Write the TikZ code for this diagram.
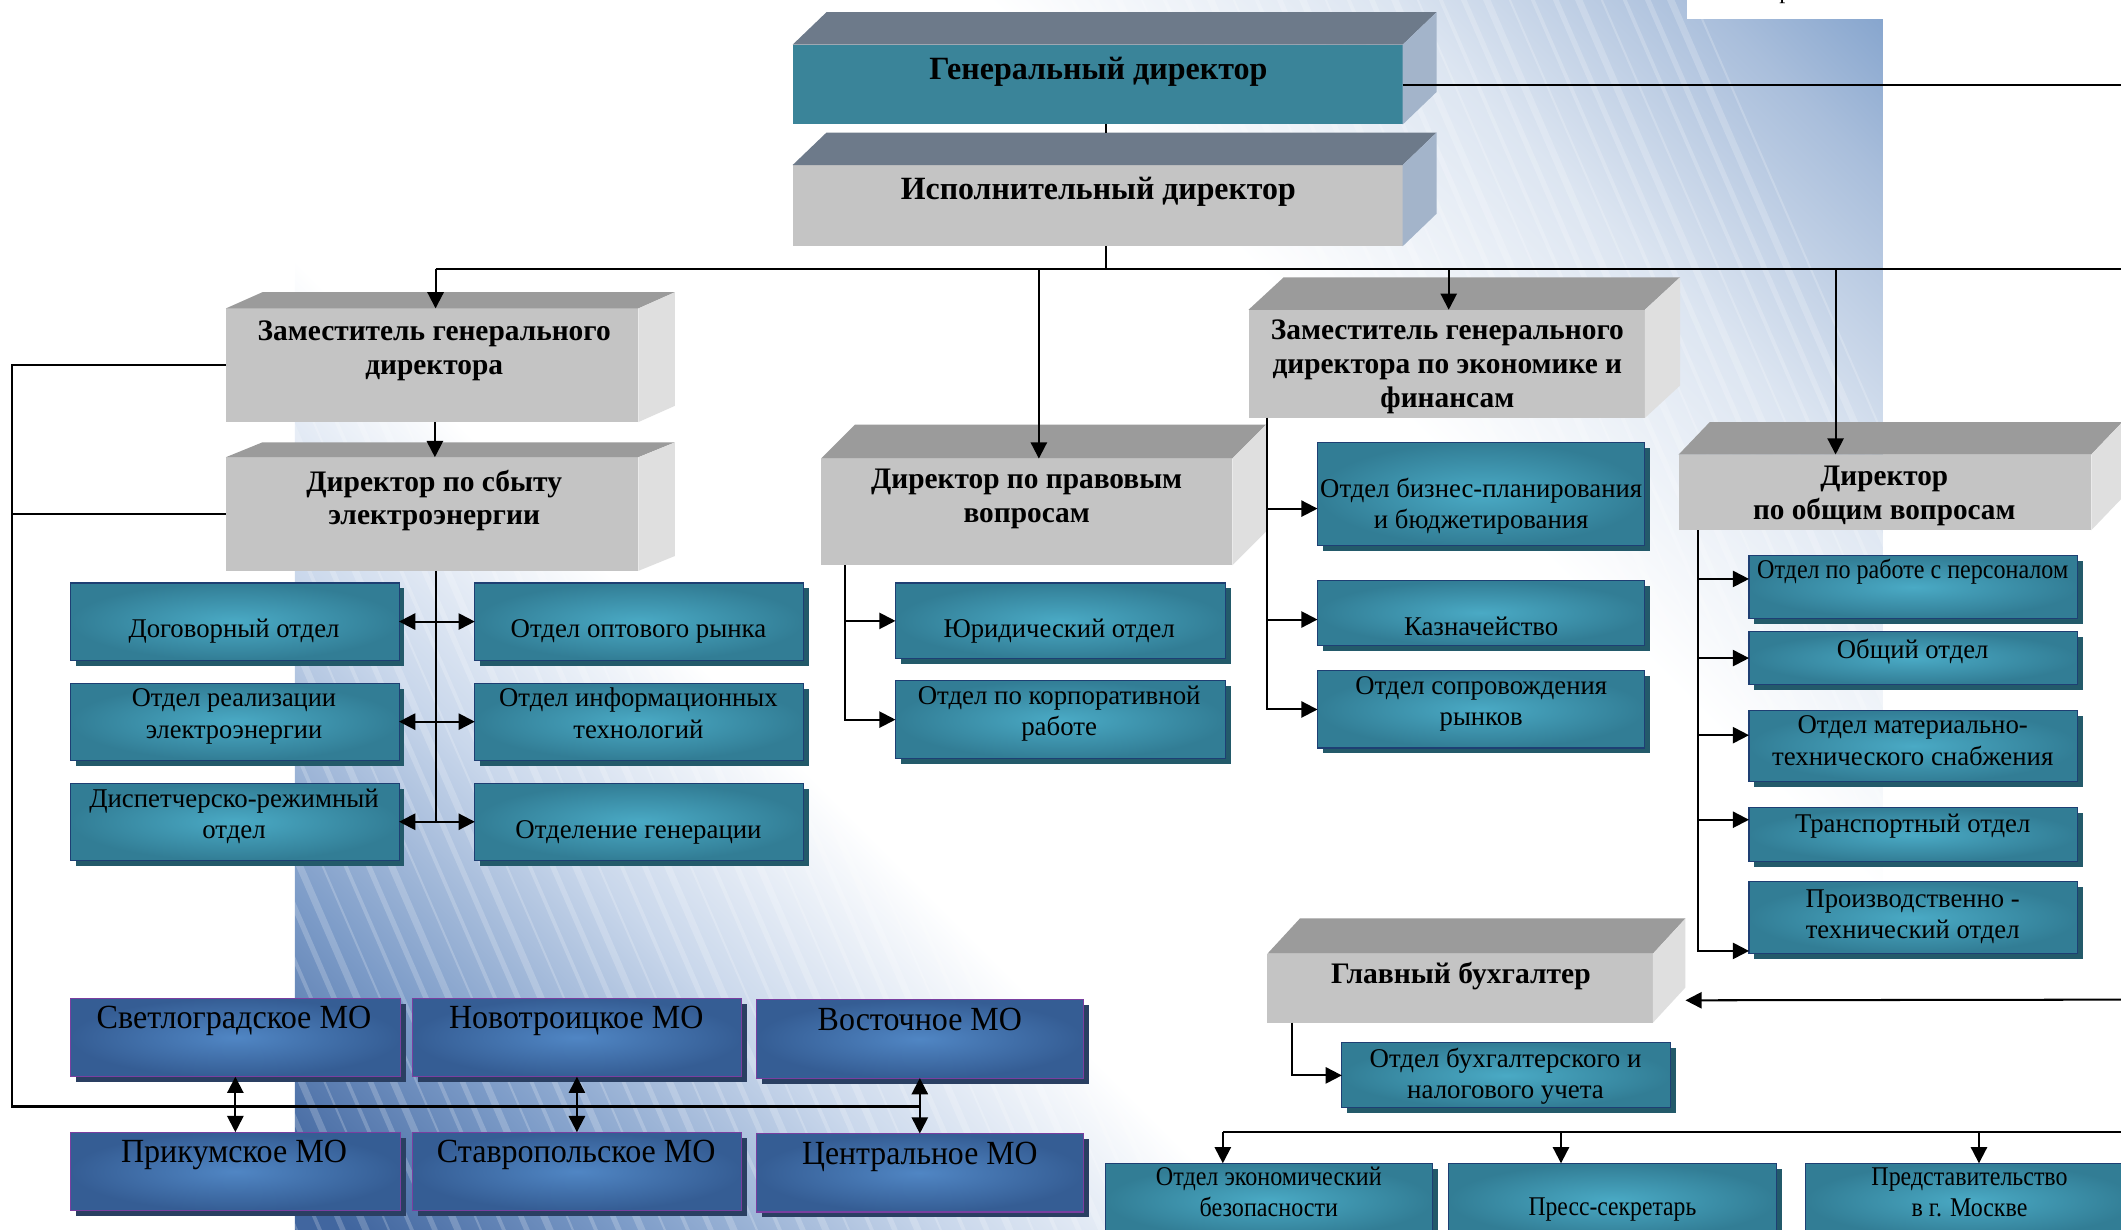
\documentclass[tikz,border=0pt]{standalone}
\usepackage{fontspec}
\setmainfont{Liberation Serif}
\usepackage{graphicx}
\usetikzlibrary{arrows.meta,calc,shadows}
\definecolor{cfront}{HTML}{3A8499}
\definecolor{ctop}{HTML}{6D7A8A}
\definecolor{cside}{HTML}{A3B4CA}
\definecolor{ifront}{HTML}{C4C4C4}
\definecolor{itop}{HTML}{6D7A8A}
\definecolor{iside}{HTML}{A3B4CA}
\definecolor{gfront}{HTML}{C4C4C4}
\definecolor{gtop}{HTML}{9B9B9B}
\definecolor{gside}{HTML}{DFDFDF}
\definecolor{tealin}{HTML}{4AAAC5}
\definecolor{tealout}{HTML}{327D95}
\definecolor{tealedge}{HTML}{1E3F73}
\definecolor{tealshadow}{HTML}{235A6A}
\definecolor{moin}{HTML}{5086C4}
\definecolor{moout}{HTML}{355D94}
\definecolor{moedge}{HTML}{7A3FA0}
\definecolor{moshadow}{HTML}{2A3F62}
\definecolor{pdark}{HTML}{41669F}
\definecolor{pmid}{HTML}{7D9CC8}
\definecolor{plone}{HTML}{C9D7EB}
\definecolor{pltwo}{HTML}{DCE5F1}
\definecolor{pbtwo}{HTML}{A9BEDB}
\definecolor{pbthree}{HTML}{7FA0CB}
\pgfdeclarehorizontalshading{panelsh}{100bp}{color(0bp)=(pdark); color(16bp)=(pdark); color(23bp)=(pmid); color(31bp)=(plone); color(39bp)=(white); color(63bp)=(white); color(73bp)=(pltwo); color(81bp)=(pbtwo); color(86bp)=(pbthree); color(100bp)=(pbthree)}
\newcommand\fsz[2]{\fontsize{#1}{#2}\selectfont}
\newcommand\fitt[3]{\setbox0=\hbox{#2}\edef\fitwd{\the\wd0}\pgfmathsetmacro\fitr{#1/\fitwd}\scalebox{\fitr}[1]{\begin{tabular}{@{}c@{}}#3\end{tabular}}}
\newcommand\mkbox[6]{\node[#1, minimum width={(#4)-(#2)}, minimum height={(#5)-(#3)}] (#6) at ({((#2)+(#4))/2},{((#3)+(#5))/2}) {};}
\newcommand\threed[8]{%
 \node[front3, fill=#8front, minimum width={(#4)-(#2)}, minimum height={(#5)-(#3)}] (#1) at ({((#2)+(#4))/2},{((#3)+(#5))/2}) {};
 \fill[#8top] (#1.north west) -- ++(#6,#7) -- ([shift={(#6,#7)}]#1.north east) -- (#1.north east) -- cycle;
 \fill[#8side] (#1.north east) -- ++(#6,#7) -- ([shift={(#6,#7)}]#1.south east) -- (#1.south east) -- cycle;
}
\tikzset{
 front3/.style={rectangle, inner sep=0pt, outer sep=0pt, draw=none},
 tbox/.style={rectangle, inner sep=0pt, outer sep=0pt, draw=tealedge, line width=0.8pt, inner color=tealin, outer color=tealout, drop shadow={shadow xshift=4pt, shadow yshift=-4pt, fill=tealshadow, opacity=1}},
 mbox/.style={rectangle, inner sep=0pt, outer sep=0pt, draw=moedge, line width=0.8pt, inner color=moin, outer color=moout, drop shadow={shadow xshift=4pt, shadow yshift=-4pt, fill=moshadow, opacity=1}},
 txt/.style={inner sep=0pt, outer sep=0pt, text=black, yshift=-2pt},
 bigb/.style={txt, font={\fsz{24}{28}\bfseries}},
 bb/.style={txt, font={\fsz{22}{25}\bfseries}},
 tn/.style={txt, font={\fsz{20}{23}}},
 mo/.style={txt, font={\fsz{25}{28}}},
 cn/.style={line width=1.5pt, draw=black},
 ar/.style={cn, -{Triangle[length=12pt,width=12pt]}},
 dar/.style={cn, {Triangle[length=12pt,width=12pt]}-{Triangle[length=12pt,width=12pt]}},
}
\begin{document}
\begin{tikzpicture}[x=1pt,y=-1pt]
\useasboundingbox (0,0) rectangle (1568,909);
% background panel
\begin{scope}
 \clip (218,0) rectangle (1392,912);
 \shade[shading=panelsh, shading angle=45] (218,0) rectangle (1392,912);
 \foreach \i in {0,...,100} {
  \pgfmathsetmacro\sx{-450+\i*17}
  \pgfmathsetmacro\lw{1.5+mod(\i*5,4)*1.2}
  \draw[white, opacity=0.2, line width=\lw pt] (\sx,-5) -- ++(400,920);
 }
\end{scope}
\fill[white] (1247,-2) rectangle (1392,14);
\node[font={\fsz{18}{20}}, anchor=base, inner sep=0pt] (topr) at (1320,-1) {р};

% 3D boxes
\threed{gd}{586}{33}{1037}{92}{25}{-24}{c}
\threed{id}{586}{122}{1037}{182}{25}{-24}{i}
\threed{zgd}{167}{228}{472}{312}{27}{-12}{g}
\threed{ds}{167}{338}{472}{422}{27}{-11}{g}
\threed{dpv}{607}{339}{911}{418}{25}{-25}{g}
\threed{zgde}{923}{229}{1216}{309}{26}{-24}{g}
\threed{dov}{1241}{336}{1546}{392}{23}{-24}{g}
\threed{gb}{937}{705}{1222}{756}{24}{-26}{g}

% teal boxes
\mkbox{tbox}{52}{431}{295}{488}{dog}
\mkbox{tbox}{52}{505}{295}{562}{real}
\mkbox{tbox}{52}{579}{295}{636}{disp}
\mkbox{tbox}{351}{431}{594}{488}{opt}
\mkbox{tbox}{351}{505}{594}{562}{inf}
\mkbox{tbox}{351}{579}{594}{636}{gen}
\mkbox{tbox}{662}{431}{906}{487}{jur}
\mkbox{tbox}{662}{503}{906}{561}{korp}
\mkbox{tbox}{974}{327}{1216}{403}{biz}
\mkbox{tbox}{974}{429}{1216}{477}{kaz}
\mkbox{tbox}{974}{496}{1216}{553}{sopr}
\mkbox{tbox}{1293}{411}{1536}{457}{pers}
\mkbox{tbox}{1293}{467}{1536}{506}{obsh}
\mkbox{tbox}{1293}{525}{1536}{578}{mat}
\mkbox{tbox}{1293}{597}{1536}{637}{trans}
\mkbox{tbox}{1293}{652}{1536}{705}{proizv}
\mkbox{tbox}{992}{771}{1235}{819}{buh}
\mkbox{tbox}{817}{860}{1059}{915}{eko}
\mkbox{tbox}{1071}{860}{1313}{915}{press}
\mkbox{tbox}{1335}{860}{1578}{915}{pred}
% MO boxes
\mkbox{mbox}{52}{738}{296}{796}{svet}
\mkbox{mbox}{305}{738}{548}{796}{novo}
\mkbox{mbox}{559}{739}{801}{797}{vost}
\mkbox{mbox}{52}{837}{296}{895}{prik}
\mkbox{mbox}{305}{837}{548}{895}{stav}
\mkbox{mbox}{559}{838}{801}{896}{cent}

% texts
\node[bigb] (tgd) at (812,51) {\fitt{250}{Генеральный директор}{Генеральный директор}};
\node[bigb] (tid) at (812,140) {\fitt{292}{Исполнительный директор}{Исполнительный директор}};
\node[bb] (tzgd) at (321,257) {\fitt{261}{Заместитель генерального}{Заместитель генерального\\директора}};
\node[bb] (tds) at (321,368.5) {\fitt{189}{Директор по сбыту}{Директор по сбыту\\электроэнергии}};
\node[bb] (tdpv) at (759,366.5) {\fitt{230}{Директор по правовым}{Директор по правовым\\вопросам}};
\node[bb] (tzgde) at (1070,269) {\fitt{261}{Заместитель генерального}{Заместитель генерального\\директора по экономике и\\финансам}};
\node[bb] (tdov) at (1393,364.5) {\fitt{194}{по общим вопросам}{Директор\\по общим вопросам}};
\node[bb] (tgb) at (1080,720) {\fitt{192}{Главный бухгалтер}{Главный бухгалтер}};

\node[tn] (tdog) at (173,465) {\fitt{156}{Договорный отдел}{Договорный отдел}};
\node[tn] (treal) at (173,527.5) {\fitt{151}{Отдел реализации}{Отдел реализации\\электроэнергии}};
\node[tn] (tdisp) at (173,601.5) {\fitt{214}{Диспетчерско-режимный}{Диспетчерско-режимный\\отдел}};
\node[tn] (topt) at (472,465) {\fitt{189}{Отдел оптового рынка}{Отдел оптового рынка}};
\node[tn] (tinf) at (472,527.5) {\fitt{206}{Отдел информационных}{Отдел информационных\\технологий}};
\node[tn] (tgen) at (472,613) {\fitt{182}{Отделение генерации}{Отделение генерации}};
\node[tn] (tjur) at (783,465) {\fitt{171}{Юридический отдел}{Юридический отдел}};
\node[tn] (tkorp) at (783,525.5) {\fitt{209}{Отдел по корпоративной}{Отдел по корпоративной\\работе}};
\node[tn] (tbiz) at (1095,372.5) {\fitt{238}{Отдел бизнес-планирования}{Отдел бизнес-планирования\\и бюджетирования}};
\node[tn] (tkaz) at (1095,463) {\fitt{114}{Казначейство}{Казначейство}};
\node[tn] (tsopr) at (1095,518.5) {\fitt{186}{Отдел сопровождения}{Отдел сопровождения\\рынков}};
\node[tn] (tpers) at (1414,421) {\fitt{230}{Отдел по работе с персоналом}{Отдел по работе с персоналом}};
\node[tn] (tobsh) at (1414,480) {\fitt{112}{Общий отдел}{Общий отдел}};
\node[tn] (tmat) at (1414,547.5) {\fitt{208}{технического снабжения}{Отдел материально-\\технического снабжения}};
\node[tn] (ttrans) at (1414,609) {\fitt{174}{Транспортный отдел}{Транспортный отдел}};
\node[tn] (tproizv) at (1414,675.5) {\fitt{158}{технический отдел}{Производственно -\\технический отдел}};
\node[tn] (tbuh) at (1113,794) {\fitt{201}{Отдел бухгалтерского и}{Отдел бухгалтерского и\\налогового учета}};
\node[tn] (teko) at (938,881.5) {\fitt{167}{Отдел экономический}{Отдел экономический\\безопасности}};
\node[tn] (tpress) at (1192,892) {\fitt{124}{Пресс-секретарь}{Пресс-секретарь}};
\node[tn] (tpred) at (1456,881.5) {\fitt{145}{Представительство}{Представительство\\в г. Москве}};

\node[mo] (tsvet) at (173,753) {\fitt{203}{Светлоградское МО}{Светлоградское МО}};
\node[mo] (tnovo) at (426,753) {\fitt{188}{Новотроицкое МО}{Новотроицкое МО}};
\node[mo] (tvost) at (680,754) {\fitt{151}{Восточное МО}{Восточное МО}};
\node[mo] (tprik) at (173,852) {\fitt{167}{Прикумское МО}{Прикумское МО}};
\node[mo] (tstav) at (426,852) {\fitt{206}{Ставропольское МО}{Ставропольское МО}};
\node[mo] (tcent) at (680,853) {\fitt{174}{Центральное МО}{Центральное МО}};

% connectors
\coordinate (gdR) at (1572,63);
\draw[cn] (gd.east) -- (gd.east -| gdR);
\path ($(gd.south)+(6,0)$) coordinate (gdb);
\draw[line width=1pt] (gdb) -- ($(id.north)+(6,-24)$);
\coordinate (bus) at (322,199);
\coordinate (busR) at (1572,199);
\coordinate (bustwo) at (768,199);
\coordinate (busthree) at (1071,199);
\coordinate (busfour) at (1357,199);
\path ($(id.south)+(6,0)$) coordinate (idb);
\draw[cn] (idb) -- (idb |- bus);
\draw[cn] (bus) -- (busR);
\draw[ar] (bus) -- (bus |- zgd.north);
\draw[ar] (bustwo) -- (bustwo |- dpv.north);
\draw[ar] (busthree) -- (busthree |- zgde.north);
\draw[ar] (busfour) -- (busfour |- dov.north);
\path ($(zgd.south)+(2,0)$) coordinate (zgdb);
\draw[ar] (zgdb) -- (zgdb |- ds.north);
% left loop
\coordinate (lft) at (9,818);
\draw[cn] (zgd.west) -| (lft) -- (lft -| vost.south);
\draw[cn] (ds.west) -- (ds.west -| lft);
\draw[dar] (svet.south) -- (prik.north);
\draw[dar] (novo.south) -- (stav.north);
\draw[dar] (vost.south) -- (cent.north);
% sales
\path ($(ds.south)+(2.5,0)$) coordinate (dsb);
\draw[cn] (dsb) -- (dsb |- disp.east);
\draw[dar] (dog.east) -- (opt.west);
\draw[dar] (real.east) -- (inf.west);
\draw[dar] (disp.east) -- (gen.west);
% legal
\draw[ar] ($(dpv.south west)+(18,0)$) |- (jur.west);
\draw[ar] ($(dpv.south west)+(18,0)$) |- (korp.west);
% economics
\draw[ar] ($(zgde.south west)+(14,0)$) |- ($(biz.west)+(0,11)$);
\draw[ar] ($(zgde.south west)+(14,0)$) |- ($(kaz.west)+(0,5)$);
\draw[ar] ($(zgde.south west)+(14,0)$) |- (sopr.west);
% general
\draw[ar] ($(dov.south west)+(14,0)$) |- ($(pers.west)+(0,-6)$);
\draw[ar] ($(dov.south west)+(14,0)$) |- (obsh.west);
\draw[ar] ($(dov.south west)+(14,0)$) |- ($(mat.west)+(0,-8)$);
\draw[ar] ($(dov.south west)+(14,0)$) |- ($(trans.west)+(0,-11)$);
\draw[ar] ($(dov.south west)+(14,0)$) |- ($(proizv.south west)+(0,-2)$);
% accountant
\coordinate (gbR) at (1572,739);
\draw[ar] (gbR) -- ($(gb.east)+(24,9)$);
\draw[ar] ($(gb.south west)+(18,0)$) |- (buh.west);
% bottom bus
\coordinate (bbone) at (904,837);
\coordinate (bbtwo) at (1154,837);
\coordinate (bbthree) at (1463,837);
\coordinate (bbR) at (1572,837);
\draw[cn] (bbone) -- (bbR);
\draw[ar] (bbone) -- (bbone |- eko.north);
\draw[ar] (bbtwo) -- (bbtwo |- press.north);
\draw[ar] (bbthree) -- (bbthree |- pred.north);
\end{tikzpicture}
\end{document}
